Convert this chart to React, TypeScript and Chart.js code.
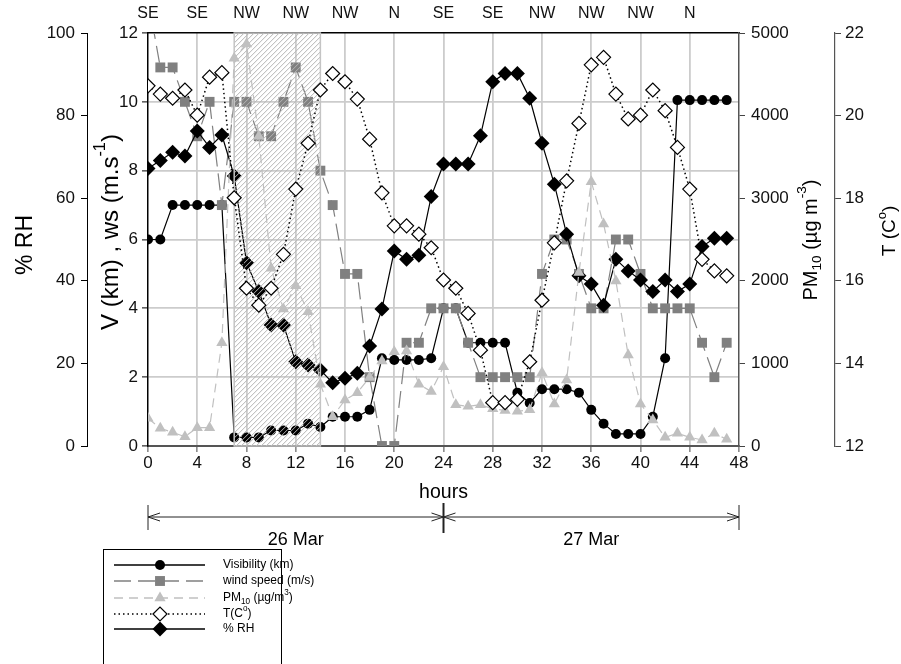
import React, { useEffect, useRef } from 'react';
import { Chart, registerables } from 'chart.js';

Chart.register(...registerables);

const FONT = "'Liberation Sans', Arial, Helvetica, sans-serif";

// ---------------- data ----------------
const hours = [0, 1, 2, 3, 4, 5, 6, 7, 8, 9, 10, 11, 12, 13, 14, 15, 16, 17, 18, 19, 20, 21, 22, 23,
  24, 25, 26, 27, 28, 29, 30, 31, 32, 33, 34, 35, 36, 37, 38, 39, 40, 41, 42, 43, 44, 45, 46, 47];

const visibility = [6.0, 6.0, 7.0, 7.0, 7.0, 7.0, 7.0, 0.25, 0.25, 0.25, 0.45, 0.45, 0.45, 0.65, 0.55, 0.85,
  0.85, 0.85, 1.05, 2.55, 2.5, 2.5, 2.5, 2.55, 4.0, 4.0, 3.0, 3.0, 3.0, 3.0, 1.55, 1.25,
  1.65, 1.65, 1.65, 1.55, 1.05, 0.65, 0.35, 0.35, 0.35, 0.85, 2.55, 10.05, 10.05, 10.05, 10.05, 10.05];

const windSpeed = [13, 11, 11, 10, 9, 10, 7, 10, 10, 9, 9, 10, 11, 10, 8, 7,
  5, 5, 2, 0, 0, 3, 3, 4, 4, 4, 3, 2, 2, 2, 2, 2,
  5, 6, 6, 5, 4, 4, 6, 6, 5, 4, 4, 4, 4, 3, 2, 3];

const pm10 = [335, 214, 166, 113, 222, 222, 1251, 4694, 4867, 3750, 2151, 1658, 1940, 1626, 747, 355,
  557, 646, 830, 1029, 1142, 1150, 747, 660, 960, 500, 480, 500, 450, 430, 420, 440,
  888, 509, 799, 2100, 3200, 2688, 1998, 1102, 509, 315, 105, 153, 105, 73, 153, 81];

const temperature = [20.72, 20.52, 20.42, 20.62, 20.01, 20.93, 21.04, 18.01, 15.82, 15.41, 15.82, 16.64, 18.22, 19.33, 20.62, 21.02,
  20.82, 20.40, 19.43, 18.13, 17.33, 17.33, 17.13, 16.80, 16.02, 15.82, 15.21, 14.32, 13.05, 13.05, 13.13, 14.04,
  15.53, 16.92, 18.42, 19.81, 21.23, 21.41, 20.52, 19.92, 20.01, 20.62, 20.12, 19.23, 18.22, 16.52, 16.24, 16.12];

const humidity = [67.2, 69.1, 71.1, 70.2, 76.3, 72.3, 75.3, 65.4, 44.4, 37.4, 29.3, 29.3, 20.4, 19.6, 18.4, 15.3,
  16.4, 17.6, 24.2, 33.2, 47.2, 45.2, 46.2, 60.4, 68.3, 68.3, 68.3, 75.1, 88.2, 90.2, 90.2, 84.2,
  73.3, 63.4, 51.3, 41.2, 39.2, 34.1, 45.2, 42.4, 40.2, 37.4, 40.2, 37.4, 39.2, 48.3, 50.3, 50.3];

const windDirHours = [0, 4, 8, 12, 16, 20, 24, 28, 32, 36, 40, 44];
const windDir = ['SE', 'SE', 'NW', 'NW', 'NW', 'N', 'SE', 'SE', 'NW', 'NW', 'NW', 'N'];

const dustStart = 7;
const dustEnd = 14;

const dayBounds = [0, 24, 48];
const dayLabels = ['26 Mar', '27 Mar'];

// ---------------- helpers ----------------
type Seg = { t: string; sup?: boolean; sub?: boolean };

function drawRich(ctx: CanvasRenderingContext2D, segs: Seg[], x: number, y: number, size: number,
  align: 'left' | 'center', rot = 0) {
  ctx.save();
  ctx.translate(x, y);
  ctx.rotate(rot);
  const small = size * 0.68;
  const widths = segs.map((s) => {
    ctx.font = `${s.sup || s.sub ? small : size}px ${FONT}`;
    return ctx.measureText(s.t).width;
  });
  const total = widths.reduce((a, b) => a + b, 0);
  let cx = align === 'center' ? -total / 2 : 0;
  ctx.textBaseline = 'middle';
  ctx.textAlign = 'left';
  ctx.fillStyle = '#000';
  segs.forEach((s, i) => {
    ctx.font = `${s.sup || s.sub ? small : size}px ${FONT}`;
    const dy = s.sup ? -size * 0.42 : s.sub ? size * 0.32 : 0;
    ctx.fillText(s.t, cx, dy);
    cx += widths[i];
  });
  ctx.restore();
}

function drawMarker(ctx: CanvasRenderingContext2D, style: string, x: number, y: number, r: number,
  fill: string, stroke?: string) {
  ctx.beginPath();
  if (style === 'circle') {
    ctx.arc(x, y, r, 0, Math.PI * 2);
  } else if (style === 'rect') {
    const s = r * Math.SQRT1_2;
    ctx.rect(x - s, y - s, 2 * s, 2 * s);
  } else if (style === 'triangle') {
    const a = (2 * Math.PI) / 3;
    ctx.moveTo(x, y - r);
    ctx.lineTo(x + Math.sin(a) * r, y - Math.cos(a) * r);
    ctx.lineTo(x + Math.sin(2 * a) * r, y - Math.cos(2 * a) * r);
    ctx.closePath();
  } else {
    ctx.moveTo(x - r, y);
    ctx.lineTo(x, y - r);
    ctx.lineTo(x + r, y);
    ctx.lineTo(x, y + r);
    ctx.closePath();
  }
  ctx.fillStyle = fill;
  ctx.fill();
  if (stroke) {
    ctx.strokeStyle = stroke;
    ctx.lineWidth = 1.2;
    ctx.stroke();
  }
}

const series = [
  { label: [{ t: 'Visibility (km)' }], data: visibility, axis: 'y', color: '#000000', dash: [] as number[], width: 1.2,
    point: 'circle', radius: 5, fill: '#000000', stroke: undefined as string | undefined, order: 5 },
  { label: [{ t: 'wind speed (m/s)' }], data: windSpeed, axis: 'y', color: '#808080', dash: [17, 7], width: 1.2,
    point: 'rect', radius: 7, fill: '#808080', stroke: undefined, order: 4 },
  { label: [{ t: 'PM' }, { t: '10', sub: true }, { t: ' (\u00b5g/m' }, { t: '3', sup: true }, { t: ')' }], data: pm10,
    axis: 'yPM', color: '#c0c0c0', dash: [9, 6], width: 1.2, point: 'triangle', radius: 6.5, fill: '#c0c0c0',
    stroke: undefined, order: 2 },
  { label: [{ t: 'T(C' }, { t: 'o', sup: true }, { t: ')' }], data: temperature, axis: 'yT', color: '#000000',
    dash: [1.5, 3], width: 1.5, point: 'rectRot', radius: 7, fill: '#ffffff', stroke: '#000000', order: 1 },
  { label: [{ t: '% RH' }], data: humidity, axis: 'yRH', color: '#000000', dash: [], width: 1.2,
    point: 'rectRot', radius: 7.5, fill: '#000000', stroke: undefined, order: 3 },
];

function drawHatch(chart: any) {
  const { ctx, chartArea, scales } = chart;
  const x0 = scales.x.getPixelForValue(dustStart);
  const x1 = scales.x.getPixelForValue(dustEnd);
  const top = chartArea.top;
  const bottom = chartArea.bottom;
  const h = bottom - top;
  ctx.save();
  ctx.beginPath();
  ctx.rect(x0, top, x1 - x0, h);
  ctx.clip();
  ctx.strokeStyle = '#b4b4b4';
  ctx.lineWidth = 1;
  for (let s = x0 - h; s < x1 + 2; s += 5) {
    ctx.beginPath();
    ctx.moveTo(s, bottom);
    ctx.lineTo(s + h, top);
    ctx.stroke();
  }
  ctx.restore();
  ctx.save();
  ctx.strokeStyle = '#c4c4c4';
  ctx.lineWidth = 1.5;
  ctx.strokeRect(x0, top, x1 - x0, h);
  ctx.restore();
}

function arrowHead(ctx: CanvasRenderingContext2D, x: number, y: number, dir: number) {
  ctx.beginPath();
  ctx.moveTo(x - dir * 12, y - 4);
  ctx.lineTo(x, y);
  ctx.lineTo(x - dir * 12, y + 4);
  ctx.stroke();
}

const decorPlugin = {
  id: 'decor',
  afterDatasetDraw(chart: any, args: any) {
    if (args.index === 4) drawHatch(chart);
  },
  afterDraw(chart: any) {
    const { ctx, scales } = chart;
    const xs = scales.x;
    // axis titles
    drawRich(ctx, [{ t: '% RH' }], 26, 245, 23, 'center', -Math.PI / 2);
    drawRich(ctx, [{ t: 'V (km) , ws (m.s' }, { t: '-1', sup: true }, { t: ')' }], 111, 232, 24, 'center', -Math.PI / 2);
    drawRich(ctx, [{ t: 'PM' }, { t: '10', sub: true }, { t: ' (\u00b5g m' }, { t: '-3', sup: true }, { t: ')' }],
      811, 240, 20, 'center', -Math.PI / 2);
    drawRich(ctx, [{ t: 'T (C' }, { t: 'o', sup: true }, { t: ')' }], 890, 231, 19, 'center', -Math.PI / 2);
    drawRich(ctx, [{ t: 'hours' }], xs.getPixelForValue(24), 493, 19.5, 'center');

    // day arrows
    const ay = 517;
    const px = dayBounds.map((d) => xs.getPixelForValue(d));
    ctx.save();
    ctx.strokeStyle = '#222';
    ctx.lineWidth = 1;
    ctx.beginPath();
    ctx.moveTo(px[0], ay);
    ctx.lineTo(px[2], ay);
    ctx.stroke();
    [px[0], px[2]].forEach((p) => {
      ctx.beginPath();
      ctx.moveTo(p, ay - 12);
      ctx.lineTo(p, ay + 13);
      ctx.stroke();
    });
    ctx.lineWidth = 2;
    ctx.beginPath();
    ctx.moveTo(px[1], ay - 14);
    ctx.lineTo(px[1], ay + 16);
    ctx.stroke();
    ctx.lineWidth = 1;
    arrowHead(ctx, px[0], ay, -1);
    arrowHead(ctx, px[1], ay, 1);
    arrowHead(ctx, px[1], ay, -1);
    arrowHead(ctx, px[2], ay, 1);
    ctx.restore();
    dayLabels.forEach((l, i) => {
      drawRich(ctx, [{ t: l }], (px[i] + px[i + 1]) / 2, 540, 18, 'center');
    });

    // legend
    ctx.save();
    ctx.strokeStyle = '#000';
    ctx.lineWidth = 1;
    ctx.strokeRect(103.5, 549.5, 178, 140);
    const rows = [565, 581, 598, 614, 629];
    series.forEach((s, i) => {
      const y = rows[i];
      ctx.save();
      ctx.strokeStyle = s.color;
      ctx.lineWidth = s.width + 0.2;
      ctx.setLineDash(s.dash);
      ctx.beginPath();
      ctx.moveTo(114, y);
      ctx.lineTo(205, y);
      ctx.stroke();
      ctx.restore();
      drawMarker(ctx, s.point, 160, y, s.radius, s.fill, s.stroke);
      drawRich(ctx, s.label, 223, y, 12, 'left');
    });
    ctx.restore();
  },
};

const tickFont = { family: FONT, size: 17 };
const plain = (v: any) => String(v);

export default function App() {
  const ref = useRef<HTMLCanvasElement | null>(null);

  useEffect(() => {
    if (!ref.current) return;
    const datasets = series.map((s) => ({
      label: s.label.map((p) => p.t).join(''),
      data: hours.map((h, i) => ({ x: h, y: s.data[i] })),
      yAxisID: s.axis,
      xAxisID: 'x',
      borderColor: s.color,
      borderWidth: s.width,
      borderDash: s.dash,
      pointStyle: s.point as any,
      pointRadius: s.radius,
      pointBackgroundColor: s.fill,
      pointBorderColor: s.stroke || s.fill,
      pointBorderWidth: s.stroke ? 1.2 : 0,
      fill: false,
      tension: 0,
      order: s.order,
    }));

    const edgeTransparent = (lo: number, hi: number, col: string) => (c: any) =>
      c.tick && (c.tick.value === lo || c.tick.value === hi) ? 'rgba(0,0,0,0)' : col;

    const chart = new Chart(ref.current, {
      type: 'line',
      data: { datasets },
      plugins: [decorPlugin],
      options: {
        responsive: false,
        animation: false,
        devicePixelRatio: 1,
        events: [],
        layout: { padding: { left: 0, right: 0, top: 0, bottom: 166 } },
        plugins: { legend: { display: false }, tooltip: { enabled: false }, title: { display: false } },
        scales: {
          x: {
            type: 'linear', position: 'bottom', min: 0, max: 48,
            afterFit: (s: any) => { s.height = 52; },
            ticks: { stepSize: 4, font: tickFont, color: '#111', padding: 1, maxRotation: 0, autoSkip: false, callback: plain },
            grid: { color: edgeTransparent(0, 48, '#cccccc'), lineWidth: 1.8, tickLength: 6, tickColor: '#444', tickWidth: 1 },
            border: { color: '#555', width: 2 },
          },
          x2: {
            type: 'linear', position: 'top', min: 0, max: 48,
            afterFit: (s: any) => { s.height = 33; },
            ticks: {
              stepSize: 4, font: { family: FONT, size: 16 }, color: '#111', padding: 10, maxRotation: 0, autoSkip: false,
              callback: (v: any) => {
                const i = windDirHours.indexOf(Number(v));
                return i >= 0 ? windDir[i] : '';
              },
            },
            grid: { drawOnChartArea: false, drawTicks: false },
            border: { color: '#000', width: 1.5 },
          },
          yRH: {
            type: 'linear', position: 'left', min: 0, max: 100, weight: 2,
            afterFit: (s: any) => { s.width = 87; },
            ticks: { stepSize: 20, font: tickFont, color: '#111', padding: 6, callback: plain },
            grid: { drawOnChartArea: false, tickLength: 6, tickColor: '#000' },
            border: { color: '#000', width: 1 },
          },
          y: {
            type: 'linear', position: 'left', min: 0, max: 12, weight: 1,
            afterFit: (s: any) => { s.width = 61; },
            ticks: { stepSize: 2, font: tickFont, color: '#111', padding: 4, callback: plain },
            grid: { color: edgeTransparent(0, 12, '#cccccc'), lineWidth: 1.8, tickLength: 6, tickColor: '#000', tickWidth: 1 },
            border: { color: '#000', width: 1.5 },
          },
          yPM: {
            type: 'linear', position: 'right', min: 0, max: 5000, weight: 1,
            afterFit: (s: any) => { s.width = 96; },
            ticks: { stepSize: 1000, font: tickFont, color: '#111', padding: 6, callback: plain },
            grid: { drawOnChartArea: false, tickLength: 6, tickColor: '#444' },
            border: { color: '#555', width: 1.5 },
          },
          yT: {
            type: 'linear', position: 'right', min: 12, max: 22, weight: 2,
            afterFit: (s: any) => { s.width = 66; },
            ticks: { stepSize: 2, font: tickFont, color: '#111', padding: 4, callback: plain },
            grid: { drawOnChartArea: false, tickLength: 6, tickColor: '#444' },
            border: { color: '#555', width: 1.2 },
          },
        },
      } as any,
    });
    return () => chart.destroy();
  }, []);

  return (
    <div style={{ position: 'absolute', left: 0, top: 0, width: 901, height: 664, background: '#fff' }}>
      <canvas ref={ref} width={901} height={664} style={{ display: 'block' }} />
    </div>
  );
}
